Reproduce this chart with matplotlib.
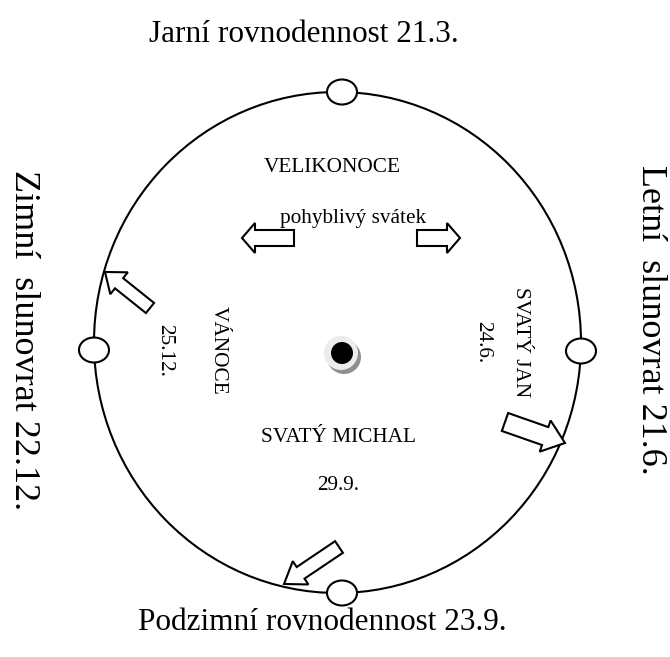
import matplotlib
matplotlib.use("Agg")
import matplotlib.pyplot as plt
from matplotlib.patches import Ellipse, Circle, FancyArrow

# Texts of the diagram
outer_labels = ["Jarní rovnodennost 21.3.", "Letní  slunovrat 21.6.",
                "Podzimní rovnodennost 23.9.", "Zimní  slunovrat 22.12."]
feasts = ["VELIKONOCE", "SVATÝ JAN", "SVATÝ MICHAL", "VÁNOCE"]
feast_dates = ["pohyblivý svátek", "24.6.", "29.9.", "25.12."]

plt.rcParams['font.family'] = ['Liberation Serif', 'DejaVu Serif']

W, H = 670, 657
fig = plt.figure(figsize=(W / 100, H / 100), dpi=100)
ax = fig.add_axes([0, 0, 1, 1])
ax.set_xlim(0, W)
ax.set_ylim(H, 0)
ax.axis('off')

# big ellipse
ax.add_patch(Ellipse((337.5, 342.5), 487, 501, fill=False, ec='black', lw=1.5, zorder=2))

# small circles on the ellipse
for (cx, cy) in [(342, 92), (581, 351), (342, 593), (94, 350)]:
    ax.add_patch(Ellipse((cx, cy), 30, 25, fc='white', ec='black', lw=1.5, zorder=3))

# centre dot
ax.add_patch(Circle((344, 357), 17, fc='#8f8f8f', ec='none', zorder=3))
ax.add_patch(Circle((341, 353), 17, fc='#ececec', ec='none', zorder=4))
ax.add_patch(Circle((342, 353), 11, fc='black', ec='none', zorder=5))

def arrow(tail, tip, w, hw, hl):
    ax.add_patch(FancyArrow(tail[0], tail[1], tip[0] - tail[0], tip[1] - tail[1],
                            width=w, head_width=hw, head_length=hl,
                            length_includes_head=True, fc='white', ec='black',
                            lw=1.5, zorder=4))

arrow((150, 308), (105, 272), 13, 28, 18)
arrow((505, 422), (565, 443), 19, 33, 21)
arrow((339, 547), (284, 584), 14, 28, 20)
arrow((294, 238), (242, 238), 16, 30, 13)
arrow((417, 238), (460, 238), 16, 30, 13)

fs_top = 22.5
fs_side = 26
fs_in = 15.3
ax.text(304, 35, outer_labels[0], ha='center', va='center', fontsize=fs_top)
ax.text(650, 320, outer_labels[1], ha='center', va='center', fontsize=fs_side, rotation=-90)
ax.text(322, 623, outer_labels[2], ha='center', va='center', fontsize=fs_top)
ax.text(23, 340, outer_labels[3], ha='center', va='center', fontsize=fs_side, rotation=-90)

ax.text(332, 168, feasts[0], ha='center', va='center', fontsize=fs_in)
ax.text(353, 219, feast_dates[0], ha='center', va='center', fontsize=fs_in, zorder=6)
ax.text(521, 342, feasts[1], ha='center', va='center', fontsize=fs_in, rotation=-90)
ax.text(483, 342, feast_dates[1], ha='center', va='center', fontsize=fs_in, rotation=-90)
ax.text(338, 437, feasts[2], ha='center', va='center', fontsize=fs_in)
ax.text(338, 486, feast_dates[2], ha='center', va='center', fontsize=fs_in)
ax.text(218, 350, feasts[3], ha='center', va='center', fontsize=fs_in, rotation=-90)
ax.text(165, 350, feast_dates[3], ha='center', va='center', fontsize=fs_in, rotation=-90)

fig.savefig("out.png", dpi=100)
